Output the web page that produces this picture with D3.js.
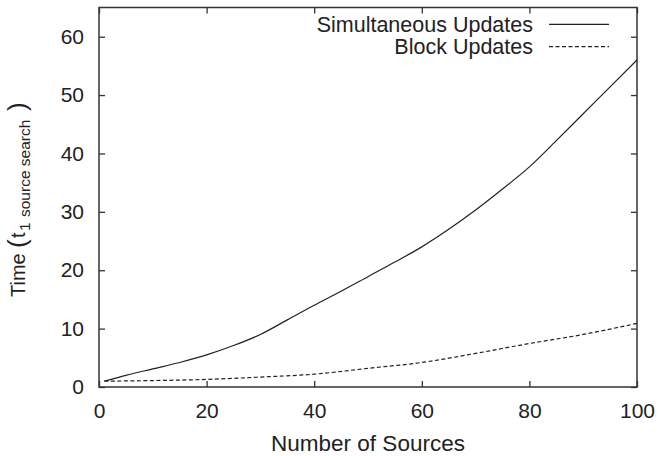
<!DOCTYPE html>
<html>
<head>
<meta charset="utf-8">
<script src="https://cdn.jsdelivr.net/npm/d3@7"></script>
<style>
  body { margin: 0; background: #fff; }
  svg text { font-family: "Liberation Sans", Arial, Helvetica, sans-serif; fill: #222; }
</style>
</head>
<body>
<script>
// data
const simX = [1, 5, 10, 15, 20, 25, 30, 35, 40, 45, 50, 55, 60, 65, 70, 75, 80, 85, 90, 95, 100]
const simY = [1.0, 2.0, 3.1, 4.2, 5.5, 7.1, 9.0, 11.5, 14.0, 16.4, 18.9, 21.4, 24.0, 27.0, 30.3, 33.9, 37.7, 42.2, 46.8, 51.4, 56.0]
const blockX = [1, 10, 20, 30, 40, 50, 60, 70, 80, 90, 100]
const blockY = [1.0, 1.1, 1.3, 1.7, 2.2, 3.2, 4.2, 5.75, 7.45, 9.0, 10.9]
const xTicks = [0, 20, 40, 60, 80, 100]
const yTicks = [0, 10, 20, 30, 40, 50, 60]
const seriesNames = ['Simultaneous Updates', 'Block Updates']

const w = 660
const h = 456
const m = {left: 99, right: 23, top: 7.5, bottom: 69}

const svg = d3.select('body')
  .append('svg')
  .attr('width', w)
  .attr('height', h)

const xScale = d3.scaleLinear()
  .domain([0, 100])
  .range([m.left, w - m.right])

const yScale = d3.scaleLinear()
  .domain([0, 65])
  .range([h - m.bottom, m.top])

const tickFont = '21px'

// bottom + top ticks (inward)
const xAxis = svg.append('g')
  .attr('transform', 'translate(0,' + (h - m.bottom) + ')')
  .call(d3.axisBottom(xScale).tickValues(xTicks).tickSizeInner(-6).tickSizeOuter(0).tickPadding(16))
xAxis.select('.domain').remove()
xAxis.selectAll('text').style('font-size', tickFont)

const xTop = svg.append('g')
  .attr('transform', 'translate(0,' + m.top + ')')
  .call(d3.axisTop(xScale).tickValues(xTicks).tickSizeInner(-6).tickSizeOuter(0).tickFormat(''))
xTop.select('.domain').remove()

const yAxis = svg.append('g')
  .attr('transform', 'translate(' + m.left + ',0)')
  .call(d3.axisLeft(yScale).tickValues(yTicks).tickSizeInner(-6).tickSizeOuter(0).tickPadding(15))
yAxis.select('.domain').remove()
yAxis.selectAll('text').style('font-size', tickFont)

const yRight = svg.append('g')
  .attr('transform', 'translate(' + (w - m.right) + ',0)')
  .call(d3.axisRight(yScale).tickValues(yTicks).tickSizeInner(-6).tickSizeOuter(0).tickFormat(''))
yRight.select('.domain').remove()

svg.selectAll('.tick line').attr('stroke', '#333').attr('stroke-width', 1.3)

// frame
svg.append('rect')
  .attr('x', xScale(0))
  .attr('y', yScale(65))
  .attr('width', xScale(100) - xScale(0))
  .attr('height', yScale(0) - yScale(65))
  .attr('fill', 'none')
  .attr('stroke', '#333')
  .attr('stroke-width', 1.5)

const line = d3.line()
  .x(d => xScale(d[0]))
  .y(d => yScale(d[1]))
  .curve(d3.curveMonotoneX)

svg.append('path')
  .datum(d3.zip(simX, simY))
  .attr('d', line)
  .attr('fill', 'none')
  .attr('stroke', '#222')
  .attr('stroke-width', 1.2)

svg.append('path')
  .datum(d3.zip(blockX, blockY))
  .attr('d', line)
  .attr('fill', 'none')
  .attr('stroke', '#222')
  .attr('stroke-width', 1.2)
  .attr('stroke-dasharray', '4,2.5')

// legend
const dashes = [null, '4,2.5']
seriesNames.forEach((name, i) => {
  const ly = 24.3 + i * 22.4
  svg.append('text')
    .attr('x', 533)
    .attr('y', ly)
    .attr('dy', '0.35em')
    .attr('text-anchor', 'end')
    .style('font-size', '21.5px')
    .text(name)
  svg.append('line')
    .attr('x1', 549)
    .attr('x2', 609)
    .attr('y1', ly)
    .attr('y2', ly)
    .attr('stroke', '#222')
    .attr('stroke-width', 1.2)
    .attr('stroke-dasharray', dashes[i])
})

// axis titles
svg.append('text')
  .attr('x', (xScale(0) + xScale(100)) / 2)
  .attr('y', 451)
  .attr('text-anchor', 'middle')
  .style('font-size', '22.5px')
  .text('Number of Sources')

// y title, laid out from its start at the bottom
const yStart = -297
const yt = svg.append('text')
  .attr('transform', 'translate(25,0) rotate(-90)')
yt.append('tspan').attr('x', yStart).style('font-size', '20px').text('Time')
yt.append('tspan').attr('x', yStart + 49).attr('dy', 1).style('font-size', '26px').text('(')
yt.append('tspan').attr('x', yStart + 59).attr('dy', -1).style('font-size', '20px').text('t')
yt.append('tspan').attr('x', yStart + 66).attr('dy', 5).style('font-size', '15.5px').text('1')
yt.append('tspan').attr('x', yStart + 80).style('font-size', '15.5px').text('source search')
yt.append('tspan').attr('x', yStart + 186).attr('dy', -4).style('font-size', '26px').text(')')
</script>
</body>
</html>
